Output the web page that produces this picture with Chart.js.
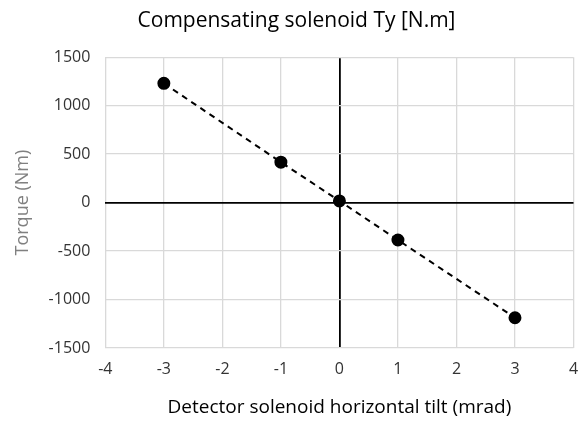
<!DOCTYPE html>
<html>
<head>
<meta charset="utf-8">
<script src="https://cdn.jsdelivr.net/npm/chart.js@4"></script>
<style>
  html, body { margin: 0; padding: 0; background: #fff; }
  #wrap { width: 581px; height: 421px; }
</style>
</head>
<body>
<div id="wrap"><canvas id="torque" width="581" height="421"></canvas></div>
<script>
// tilt (mrad) vs torque (Nm)
const tilt = [-3, -1, 0, 1, 3];
const torque = [1230, 417, 17, -386, -1188];
const xTicks = [-4, -3, -2, -1, 0, 1, 2, 3, 4];
const yTicks = [-1500, -1000, -500, 0, 500, 1000, 1500];

const fontFam = "'Open Sans', 'Liberation Sans', sans-serif";
const gridColor = ctx => ctx.tick && ctx.tick.value === 0 ? '#000000' : '#d9d9d9';
const gridWidth = ctx => ctx.tick && ctx.tick.value === 0 ? 1.8 : 1.3;

new Chart(document.getElementById('torque'), {
  type: 'scatter',
  data: {
    datasets: [{
      data: tilt.map((x, i) => ({ x: x, y: torque[i] })),
      showLine: true,
      borderColor: '#000',
      borderWidth: 2,
      borderDash: [6, 5],
      pointBackgroundColor: '#000',
      pointBorderColor: '#000',
      pointRadius: 5.5
    }]
  },
  options: {
    responsive: false,
    animation: false,
    layout: { padding: { left: 12, right: 0, top: 8, bottom: 2 } },
    plugins: {
      legend: { display: false },
      tooltip: { enabled: false },
      title: {
        display: true,
        text: 'Compensating solenoid Ty [N.m]',
        color: '#000',
        font: { family: fontFam, size: 21, weight: 'normal' },
        padding: { top: 0, bottom: 24 }
      }
    },
    scales: {
      x: {
        type: 'linear',
        min: -4, max: 4,
        afterBuildTicks: axis => { axis.ticks = xTicks.map(v => ({ value: v })); },
        afterFit: axis => { axis.paddingRight = 7; },
        grid: { color: gridColor, lineWidth: gridWidth, drawTicks: false },
        border: { display: false },
        ticks: { color: '#333333', font: { family: fontFam, size: 16 }, padding: 12, callback: v => String(v) },
        title: {
          display: true,
          text: 'Detector solenoid horizontal tilt (mrad)',
          color: '#000',
          font: { family: fontFam, size: 19 },
          padding: { top: 5, bottom: 0 }
        }
      },
      y: {
        type: 'linear',
        min: -1500, max: 1500,
        afterBuildTicks: axis => { axis.ticks = yTicks.map(v => ({ value: v })); },
        grid: { color: gridColor, lineWidth: gridWidth, drawTicks: false },
        border: { display: false },
        ticks: { color: '#333333', font: { family: fontFam, size: 16 }, padding: 15, callback: v => String(v) },
        title: {
          display: true,
          text: 'Torque (Nm)',
          color: '#808080',
          font: { family: fontFam, size: 18 },
          padding: { top: 0, bottom: 0 }
        }
      }
    }
  }
});
</script>
</body>
</html>
